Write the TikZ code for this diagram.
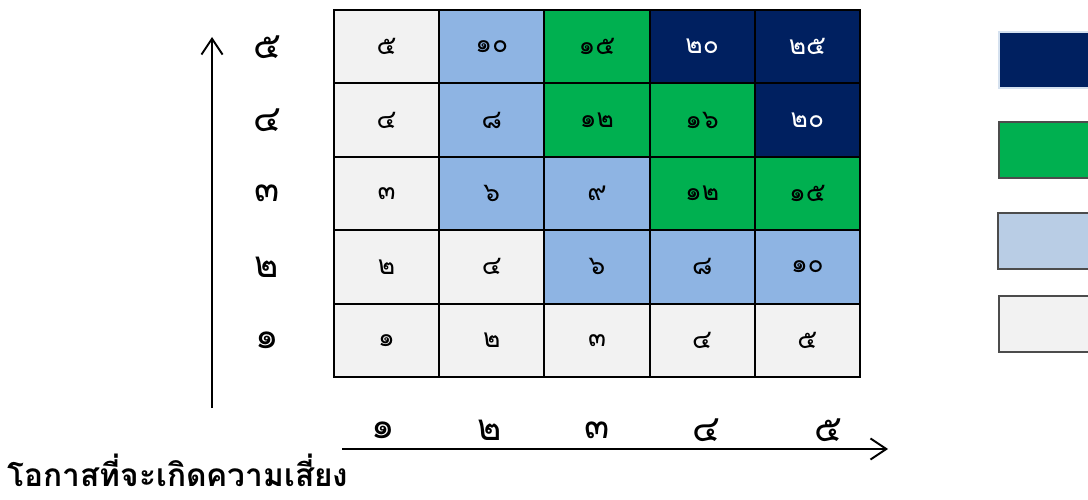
\documentclass[tikz,border=0pt]{standalone}
\usepackage{fontspec}
\newfontfamily\thaifont[Script=Thai]{Loma}
\usetikzlibrary{arrows.meta}
\definecolor{riskgray}{HTML}{F2F2F2}
\definecolor{riskblue}{HTML}{8EB4E3}
\definecolor{legendblue}{HTML}{B9CDE5}
\definecolor{riskgreen}{HTML}{00B050}
\definecolor{risknavy}{HTML}{002060}
\newcommand\thaidigit[1]{\ifcase#1 ๐\or ๑\or ๒\or ๓\or ๔\or ๕\or ๖\or ๗\or ๘\or ๙\fi}

\begin{document}
\begin{tikzpicture}[x=0.02cm,y=-0.02cm]
\tikzset{cell/.style={draw=black,line width=1.1pt,minimum width=2.104cm,minimum height=1.468cm,
           inner sep=0pt,font=\thaifont\fontsize{15}{15}\selectfont},
         low/.style={fill=riskgray},
         mid/.style={fill=riskblue},
         high/.style={fill=riskgreen},
         top/.style={fill=risknavy,text=white},
         axislabel/.style={font=\thaifont\fontsize{21}{21}\selectfont},
         legendbox/.style={draw=black!70,line width=0.8pt,minimum width=2cm,minimum height=1.12cm},
         axis/.style={line width=1.1pt,-{Straight Barb[length=9pt,width=12pt]}}}
\useasboundingbox (0,0) rectangle (1088,500);
\foreach \r in {1,...,5}
  \foreach \c in {1,...,5}{
    \pgfmathtruncatemacro\p{\r*\c}
    \pgfmathtruncatemacro\tens{\p/10}
    \pgfmathtruncatemacro\ones{mod(\p,10)}
    \ifnum\p<6 \def\lvl{low}\else\ifnum\p<11 \def\lvl{mid}\else\ifnum\p<17 \def\lvl{high}\else\def\lvl{top}\fi\fi\fi
    \node[cell,\lvl] (c\r\c) at ({334+105.2*(\c-0.5)},{377-73.4*(\r-0.5)})
      {\ifnum\tens>0 \thaidigit\tens\fi\thaidigit\ones};
  }
\foreach \r in {1,...,5}
  \node[axislabel] (y\r) at (267,{377-73.4*(\r-0.5)}) {\thaidigit\r};
\foreach \c/\x in {1/383,2/490,3/597,4/706,5/828}
  \node[axislabel] (x\c) at (\x,430) {\thaidigit\c};
\coordinate (ybot) at (212,408);
\coordinate (ytop) at (212,37);
\coordinate (xleft) at (342,449);
\coordinate (xright) at (888,449);
\draw[axis] (ybot) -- (ytop);
\draw[axis] (xleft) -- (xright);
\node[legendbox,fill=risknavy,draw=legendblue!60] (lg1) at (1049,60) {};
\node[legendbox,fill=riskgreen] (lg2) at (1049,150) {};
\node[legendbox,fill=legendblue] (lg3) at (1048,241) {};
\node[legendbox,fill=riskgray] (lg4) at (1049,324) {};
\node[font=\thaifont\bfseries\fontsize{18}{18}\selectfont] (title) at (178,470) {โอกาสที่จะเกิดความเสี่ยง};
\end{tikzpicture}
\end{document}
